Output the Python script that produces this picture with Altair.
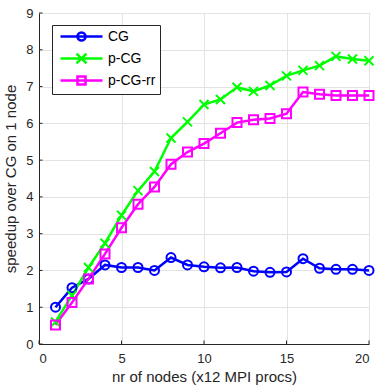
import altair as alt
import pandas as pd

nodes = list(range(1, 21))
cg = [1.0, 1.53, 1.77, 2.15, 2.08, 2.08, 2.0, 2.35, 2.15, 2.1,
      2.07, 2.08, 1.98, 1.95, 1.96, 2.32, 2.06, 2.03, 2.03, 2.0]
pcg = [0.6, 1.32, 2.08, 2.74, 3.5, 4.17, 4.69, 5.6, 6.04, 6.51,
       6.65, 6.98, 6.87, 7.03, 7.29, 7.44, 7.57, 7.82, 7.75, 7.7]
pcgrr = [0.52, 1.13, 1.77, 2.45, 3.16, 3.8, 4.27, 4.89, 5.22, 5.45,
         5.73, 6.02, 6.1, 6.13, 6.26, 6.85, 6.79, 6.76, 6.76, 6.76]
series = ["CG", "p-CG", "p-CG-rr"]
colors = ["#0000ff", "#00ff00", "#ff00ff"]
x_ticks = [0, 5, 10, 15, 20]
y_ticks = list(range(0, 10))

rows = []
for name, vals in zip(series, [cg, pcg, pcgrr]):
    for n, v in zip(nodes, vals):
        rows.append({"nodes": n, "speedup": v, "series": name})
df = pd.DataFrame(rows)
xt_df = pd.DataFrame({"nodes": x_ticks})
yt_df = pd.DataFrame({"speedup": y_ticks})

FONT = "Liberation Sans"
TXT = "#262626"

marker_shapes = ["circle", "M-1,-1L1,1M-1,1L1,-1", "square"]
legend_shapes = [
    "M-0.5,0L6.5,0M3.67,0A0.67,0.67,0,1,1,2.33,0A0.67,0.67,0,1,1,3.67,0",
    "M-0.5,0L6.5,0M2.17,-0.83L3.83,0.83M2.17,0.83L3.83,-0.83",
    "M-0.5,0L6.5,0M2.33,-0.67L3.67,-0.67L3.67,0.67L2.33,0.67Z",
]

x_enc = alt.X("nodes:Q", scale=alt.Scale(domain=[0, 20], nice=False),
              axis=alt.Axis(values=x_ticks, title="nr of nodes (x12 MPI procs)",
                            titleFontSize=15, titlePadding=4, labelPadding=8))
y_enc = alt.Y("speedup:Q", scale=alt.Scale(domain=[0, 9], nice=False),
              axis=alt.Axis(values=y_ticks, title="speedup over CG on 1 node",
                            titleFontSize=15, titlePadding=7, labelPadding=6))

color_scale = alt.Scale(domain=series, range=colors)

lines = alt.Chart(df).mark_line(strokeWidth=2.5).encode(
    x=x_enc, y=y_enc,
    color=alt.Color("series:N", scale=color_scale, legend=None),
)

points = alt.Chart(df).mark_point(filled=False, strokeWidth=2, opacity=1).encode(
    x=x_enc, y=y_enc,
    color=alt.Color("series:N", scale=color_scale, legend=None),
    shape=alt.Shape("series:N", scale=alt.Scale(domain=series, range=marker_shapes), legend=None),
    size=alt.value(81),
)

leg = dict(orient="none", legendX=13, legendY=12, title=None,
           strokeColor=TXT, fillColor="white", padding=4,
           labelFontSize=14, labelFont=FONT, labelColor="#000000",
           labelOffset=37, symbolSize=144, rowPadding=2,
           symbolStrokeWidth=2.5, symbolOpacity=1)

legend_layer = alt.Chart(df).mark_point(filled=False, opacity=1).encode(
    x=x_enc, y=y_enc,
    color=alt.Color("series:N", scale=color_scale, legend=alt.Legend(**leg)),
    shape=alt.Shape("series:N", scale=alt.Scale(domain=series, range=legend_shapes),
                    legend=alt.Legend(**leg)),
).transform_filter("false")

x_tick_marks = alt.Chart(xt_df).mark_rule(color=TXT, strokeWidth=1).encode(
    x=x_enc, y=alt.value(331), y2=alt.value(327.5),
)
y_tick_marks = alt.Chart(yt_df).mark_rule(color=TXT, strokeWidth=1).encode(
    y=y_enc, x=alt.value(0), x2=alt.value(3.5),
)

chart = alt.layer(lines, points, legend_layer, x_tick_marks, y_tick_marks).resolve_scale(
    color="independent", shape="independent"
).properties(
    width=330, height=331,
    autosize=alt.AutoSizeParams(type="none"),
    padding={"left": 39, "top": 13, "right": 9, "bottom": 41},
).configure_view(stroke=None).configure_axis(
    labelFont=FONT, titleFont=FONT, labelFontSize=13,
    labelColor=TXT, titleColor=TXT, titleFontWeight="normal",
    domainColor=TXT, domainWidth=1, ticks=False,
    gridColor="#e3e3e3", gridWidth=1,
)

chart.save("out.html", embed_options={"renderer": "svg", "actions": False})
